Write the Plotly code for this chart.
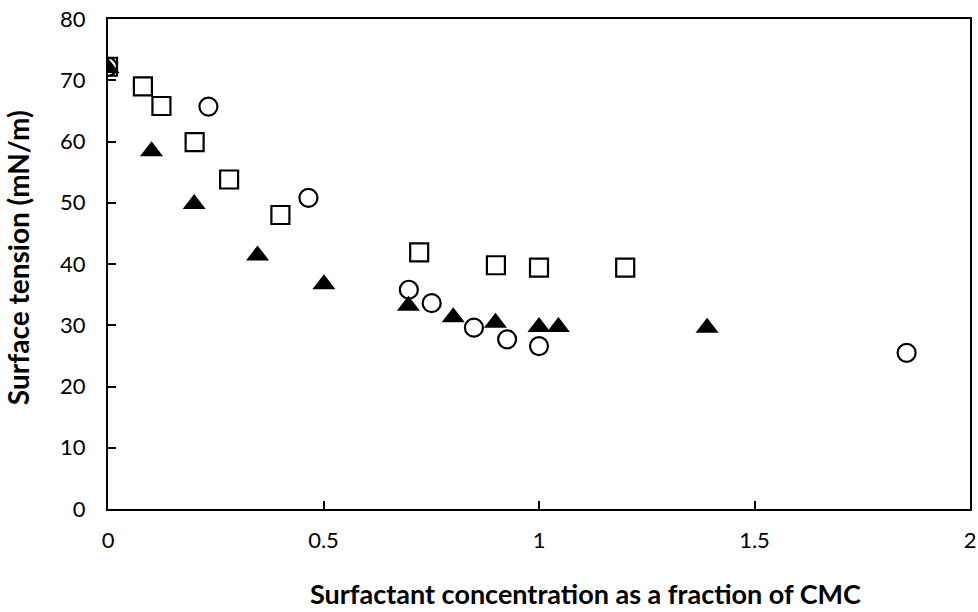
import plotly.graph_objects as go

# Data
sq_x = [0.0, 0.081, 0.124, 0.201, 0.281, 0.40, 0.722, 0.90, 1.0, 1.20]
sq_y = [72.2, 69.0, 65.8, 59.9, 53.8, 48.0, 41.9, 39.8, 39.4, 39.4]

ci_x = [0.0, 0.233, 0.465, 0.698, 0.751, 0.849, 0.926, 1.0, 1.853]
ci_y = [72.2, 65.7, 50.8, 35.8, 33.6, 29.6, 27.7, 26.6, 25.5]

tr_x = [0.0, 0.101, 0.20, 0.347, 0.501, 0.697, 0.801, 0.899, 1.0, 1.045, 1.39]
tr_y = [72.0, 58.4, 49.8, 41.4, 36.7, 33.2, 31.3, 30.4, 29.7, 29.7, 29.6]

x_ticks = [0, 0.5, 1, 1.5, 2]
x_tick_labels = ["0", "0.5", "1", "1.5", "2"]
y_ticks = [0, 10, 20, 30, 40, 50, 60, 70, 80]

x_title = "Surfactant concentration as a fraction of CMC"
y_title = "Surface tension (mN/m)"

FONT = "Lato, 'Open Sans', sans-serif"

fig = go.Figure()
fig.add_trace(go.Scatter(
    x=sq_x, y=sq_y, mode="markers",
    marker=dict(symbol="square", size=18, color="white",
                line=dict(color="black", width=2.2)),
    showlegend=False))
fig.add_trace(go.Scatter(
    x=ci_x, y=ci_y, mode="markers",
    marker=dict(symbol="circle", size=18, color="white",
                line=dict(color="black", width=2.2)),
    showlegend=False))
fig.add_trace(go.Scatter(
    x=tr_x, y=tr_y, mode="markers",
    marker=dict(symbol="triangle-up", size=20, color="black",
                line=dict(color="black", width=0)),
    showlegend=False))

fig.update_layout(
    width=978, height=612,
    margin=dict(l=108, r=8, t=19, b=103),
    paper_bgcolor="white", plot_bgcolor="white",
    font=dict(family=FONT, color="black", size=22),
)
fig.update_xaxes(
    range=[0, 2], tickvals=x_ticks, ticktext=x_tick_labels,
    showgrid=False, zeroline=False,
    showline=True, linecolor="black", linewidth=2, mirror=True,
    ticks="inside", ticklen=8, tickwidth=1.5, tickcolor="black",
    ticklabelstandoff=11,
    tickfont=dict(family=FONT, size=22, color="black"),
    automargin=False,
)
fig.update_yaxes(
    range=[0, 80], tickvals=y_ticks,
    showgrid=False, zeroline=False,
    showline=True, linecolor="black", linewidth=2, mirror=True,
    ticks="inside", ticklen=8, tickwidth=1.5, tickcolor="black",
    ticklabelstandoff=16,
    tickfont=dict(family=FONT, size=22, color="black"),
    automargin=False,
)
fig.add_annotation(
    text="<b>" + x_title + "</b>", xref="paper", yref="paper",
    x=0.5545, y=-0.172, xanchor="center", yanchor="middle",
    showarrow=False, borderpad=0,
    font=dict(family=FONT, size=27, color="black"))
fig.add_annotation(
    text="<b>" + y_title + "</b>", xref="paper", yref="paper",
    x=-0.1044, y=0.512, xanchor="center", yanchor="middle", textangle=-90,
    showarrow=False, borderpad=0,
    font=dict(family=FONT, size=28, color="black"))

fig.write_html("out.html")
